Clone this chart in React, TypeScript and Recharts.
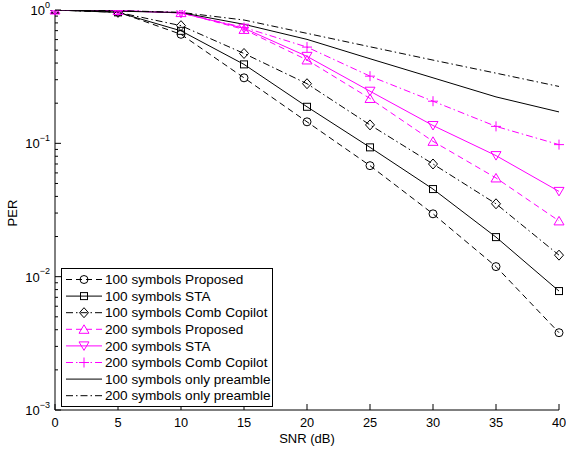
import React from 'react'
import { LineChart, Line, XAxis, YAxis, Legend } from 'recharts'

// SNR (dB) sample points
const snr = [0, 5, 10, 15, 20, 25, 30, 35, 40]

// PER values
const proposed100 = [1, 0.966, 0.657, 0.31, 0.145, 0.068, 0.0296, 0.0119, 0.0038]
const sta100 = [1, 0.96, 0.698, 0.391, 0.188, 0.0933, 0.0454, 0.0198, 0.0078]
const comb100 = [1, 0.96, 0.763, 0.472, 0.28, 0.1375, 0.07, 0.0352, 0.0145]
const proposed200 = [1, 0.99, 0.956, 0.715, 0.422, 0.217, 0.1035, 0.055, 0.0262]
const sta200 = [1, 0.99, 0.95, 0.73, 0.449, 0.246, 0.136, 0.0809, 0.0436]
const comb200 = [1, 0.99, 0.95, 0.74, 0.527, 0.319, 0.207, 0.134, 0.0978]
const preamble100 = [1, 0.98, 0.956, 0.781, 0.602, 0.431, 0.31, 0.223, 0.172]
const preamble200 = [1, 0.99, 0.96, 0.841, 0.668, 0.53, 0.421, 0.336, 0.267]

const xTicks = [0, 5, 10, 15, 20, 25, 30, 35, 40]
const majorY = [0.001, 0.01, 0.1, 1]
const yTicks = [
    0.001, 0.002, 0.003, 0.004, 0.005, 0.006, 0.007, 0.008, 0.009,
    0.01, 0.02, 0.03, 0.04, 0.05, 0.06, 0.07, 0.08, 0.09,
    0.1, 0.2, 0.3, 0.4, 0.5, 0.6, 0.7, 0.8, 0.9,
    1,
]

const BLACK = '#000000'
const MAGENTA = '#ff00ff'
const DASH = '6 4'
const DASHDOT = '7 3 1.5 3'
const FONT = '"Liberation Sans", Arial, Helvetica, sans-serif'

type MarkerKind = 'circle' | 'square' | 'diamond' | 'triUp' | 'triDown' | 'plus' | 'none'

const series: { key: string; name: string; values: number[]; color: string; dash?: string; marker: MarkerKind }[] = [
    { key: 'p100', name: '100 symbols Proposed', values: proposed100, color: BLACK, dash: DASH, marker: 'circle' },
    { key: 's100', name: '100 symbols STA', values: sta100, color: BLACK, marker: 'square' },
    { key: 'c100', name: '100 symbols Comb Copilot', values: comb100, color: BLACK, dash: DASHDOT, marker: 'diamond' },
    { key: 'p200', name: '200 symbols Proposed', values: proposed200, color: MAGENTA, dash: DASH, marker: 'triUp' },
    { key: 's200', name: '200 symbols STA', values: sta200, color: MAGENTA, marker: 'triDown' },
    { key: 'c200', name: '200 symbols Comb Copilot', values: comb200, color: MAGENTA, dash: DASHDOT, marker: 'plus' },
    { key: 'o100', name: '100 symbols only preamble', values: preamble100, color: BLACK, marker: 'none' },
    { key: 'o200', name: '200 symbols only preamble', values: preamble200, color: BLACK, dash: DASHDOT, marker: 'none' },
]

const data = snr.map((s, i) => {
    const row: Record<string, number> = { snr: s }
    series.forEach((sr) => {
        row[sr.key] = sr.values[i]
    })
    return row
})

function Marker({ kind, cx, cy, color }: { kind: MarkerKind; cx: number; cy: number; color: string }) {
    const common = { fill: 'none', stroke: color, strokeWidth: 1 }
    switch (kind) {
        case 'circle':
            return <circle cx={cx} cy={cy} r={4} {...common} />
        case 'square':
            return <rect x={cx - 3.5} y={cy - 3.5} width={7} height={7} {...common} />
        case 'diamond':
            return <polygon points={`${cx},${cy - 5} ${cx + 4.5},${cy} ${cx},${cy + 5} ${cx - 4.5},${cy}`} {...common} />
        case 'triUp':
            return <polygon points={`${cx},${cy - 4.5} ${cx + 5},${cy + 4} ${cx - 5},${cy + 4}`} {...common} />
        case 'triDown':
            return <polygon points={`${cx},${cy + 4.5} ${cx + 5},${cy - 4} ${cx - 5},${cy - 4}`} {...common} />
        case 'plus':
            return (
                <g {...common}>
                    <line x1={cx - 5} x2={cx + 5} y1={cy} y2={cy} />
                    <line x1={cx} x2={cx} y1={cy - 5} y2={cy + 5} />
                </g>
            )
        default:
            return <g />
    }
}

const LeftTick = (props: any) => {
    const { x, y, payload } = props
    const v = payload.value
    const major = majorY.includes(v)
    const exp = Math.round(Math.log10(v))
    return (
        <g>
            <line x1={x} x2={x + (major ? 6 : 3)} y1={y} y2={y} stroke={BLACK} />
            {major && (
                <text x={x - 5} y={y + 5} textAnchor="end" fontSize={13} fontFamily={FONT} fill={BLACK}>
                    10
                    <tspan dy={-7.5} fontSize={9}>{exp < 0 ? `\u2212${-exp}` : `${exp}`}</tspan>
                </text>
            )}
        </g>
    )
}

const RightTick = (props: any) => {
    const { x, y, payload } = props
    const major = majorY.includes(payload.value)
    return <line x1={x} x2={x - (major ? 6 : 3)} y1={y} y2={y} stroke={BLACK} />
}

const BottomTick = (props: any) => {
    const { x, y, payload } = props
    return (
        <g>
            <line x1={x} x2={x} y1={y} y2={y - 6} stroke={BLACK} />
            <text x={x} y={y + 17} textAnchor="middle" fontSize={12.8} fontFamily={FONT} fill={BLACK}>
                {payload.value}
            </text>
        </g>
    )
}

const TopTick = (props: any) => {
    const { x, y } = props
    return <line x1={x} x2={x} y1={y} y2={y + 6} stroke={BLACK} />
}

const LegendBox = () => {
    const rowH = 16.6
    return (
        <svg width={212} height={139} style={{ display: 'block' }}>
            <rect x={0.5} y={0.5} width={211} height={138} fill="#ffffff" stroke={BLACK} />
            {series.map((s, i) => {
                const cy = 11.5 + i * rowH
                return (
                    <g key={s.key}>
                        <line x1={5} x2={41} y1={cy} y2={cy} stroke={s.color} strokeDasharray={s.dash} />
                        <Marker kind={s.marker} cx={23} cy={cy} color={s.color} />
                        <text x={44} y={cy + 4.6} fontSize={13.6} fontFamily={FONT} fill={BLACK}>
                            {s.name}
                        </text>
                    </g>
                )
            })}
        </svg>
    )
}

export default function App() {
    return (
        <div style={{ position: 'absolute', left: 0, top: 0, background: '#ffffff' }}>
            <LineChart width={566} height={450} data={data} margin={{ top: 10, right: 7, left: 0, bottom: 0 }}>
                <XAxis
                    dataKey="snr"
                    type="number"
                    domain={[0, 40]}
                    ticks={xTicks}
                    interval={0}
                    height={40}
                    tickSize={0}
                    tickMargin={0}
                    tickLine={false}
                    axisLine={{ stroke: BLACK }}
                    tick={<BottomTick />}
                    label={({ viewBox }: any) => (
                        <text
                            x={viewBox.x + viewBox.width / 2}
                            y={442.5}
                            textAnchor="middle"
                            fontSize={13}
                            fontFamily={FONT}
                            fill={BLACK}
                        >
                            SNR (dB)
                        </text>
                    )}
                />
                <XAxis
                    xAxisId="top"
                    orientation="top"
                    type="number"
                    domain={[0, 40]}
                    ticks={xTicks}
                    interval={0}
                    height={0}
                    tickSize={0}
                    tickMargin={0}
                    tickLine={false}
                    axisLine={{ stroke: BLACK }}
                    tick={<TopTick />}
                    allowDataOverflow
                />
                <YAxis
                    scale="log"
                    type="number"
                    domain={[0.001, 1]}
                    ticks={yTicks}
                    interval={0}
                    width={55}
                    tickSize={0}
                    tickMargin={0}
                    tickLine={false}
                    axisLine={{ stroke: BLACK }}
                    tick={<LeftTick />}
                    allowDataOverflow
                    label={({ viewBox }: any) => (
                        <text
                            x={17}
                            y={viewBox.y + viewBox.height / 2 + 3}
                            transform={`rotate(-90, 17, ${viewBox.y + viewBox.height / 2 + 3})`}
                            textAnchor="middle"
                            fontSize={13}
                            fontFamily={FONT}
                            fill={BLACK}
                        >
                            PER
                        </text>
                    )}
                />
                <YAxis
                    yAxisId="right"
                    orientation="right"
                    scale="log"
                    type="number"
                    domain={[0.001, 1]}
                    ticks={yTicks}
                    interval={0}
                    width={0}
                    tickSize={0}
                    tickMargin={0}
                    tickLine={false}
                    axisLine={{ stroke: BLACK }}
                    tick={<RightTick />}
                    allowDataOverflow
                />
                {series.map((s) => (
                    <Line
                        key={s.key}
                        dataKey={s.key}
                        name={s.name}
                        type="linear"
                        stroke={s.color}
                        strokeWidth={1}
                        strokeDasharray={s.dash}
                        dot={(p: any) => <Marker key={`${s.key}-${p.index}`} kind={s.marker} cx={p.cx} cy={p.cy} color={s.color} />}
                        activeDot={false}
                        isAnimationActive={false}
                    />
                ))}
                <Legend
                    layout="horizontal"
                    verticalAlign="middle"
                    align="center"
                    content={() => <LegendBox />}
                    wrapperStyle={{ position: 'absolute', left: 61, top: 268, width: 212, height: 139 }}
                />
            </LineChart>
        </div>
    )
}
